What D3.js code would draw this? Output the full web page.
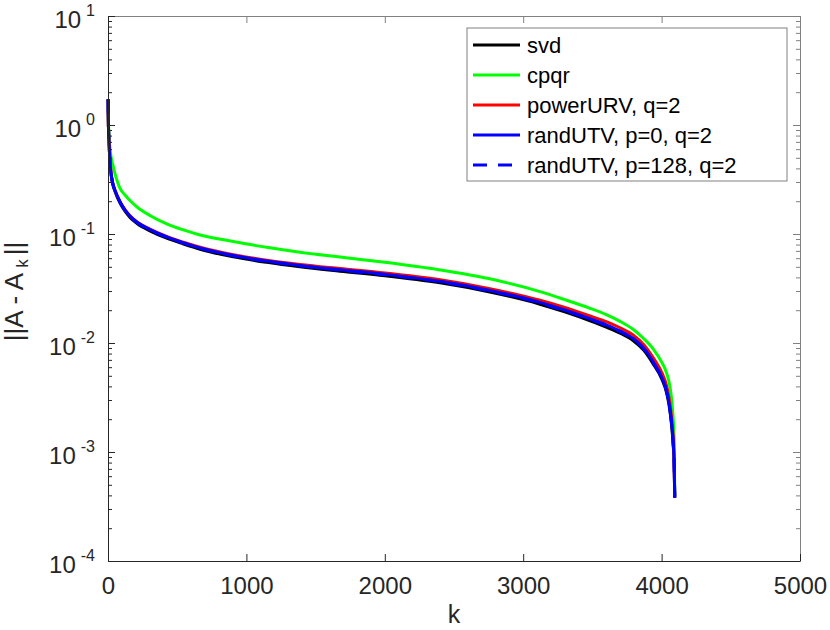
<!DOCTYPE html>
<html>
<head>
<meta charset="utf-8">
<script src="https://cdn.jsdelivr.net/npm/d3@7"></script>
<style>
body { margin: 0; background: #fff; }
text { font-family: "Liberation Sans", Arial, Helvetica, sans-serif; }
</style>
</head>
<body>
<div id="graphs"></div>
<script>
const kPoints = [1, 2, 4, 7, 12, 22, 35, 50, 87, 123, 159, 210, 303, 424, 545, 665, 905, 1147, 1387, 1676,
  2000, 2399, 2750, 3121, 3300, 3483, 3600, 3700, 3796, 3870, 3940, 4000, 4037, 4060, 4073, 4085, 4090, 4095];

const svdErr = [1.72, 1.18, 0.88, 0.71, 0.51, 0.355, 0.283, 0.247, 0.192, 0.162, 0.142, 0.125, 0.107, 0.0915, 0.081, 0.0725,
  0.0617, 0.0549, 0.05, 0.0456, 0.0414, 0.0356, 0.0295, 0.0227, 0.0193, 0.016, 0.014, 0.0123, 0.0105, 0.0086,
  0.0064, 0.0047, 0.00345, 0.0024, 0.00172, 0.0011, 0.00083, 0.00038];

const cpqrErr = [1.72, 1.3, 1.0, 0.8, 0.65, 0.51, 0.43, 0.36, 0.262, 0.228, 0.203, 0.177, 0.148, 0.124, 0.109, 0.098,
  0.0855, 0.0755, 0.068, 0.0615, 0.055, 0.0468, 0.039, 0.0296, 0.025, 0.0208, 0.0182, 0.0158, 0.0133, 0.011,
  0.0088, 0.0067, 0.00527, 0.004, 0.003, 0.0019, 0.00138, 0.0004];

const powerUrvErr = [1.72, 1.2, 0.9, 0.73, 0.52, 0.364, 0.291, 0.254, 0.198, 0.167, 0.147, 0.129, 0.111, 0.095, 0.084, 0.0755,
  0.0645, 0.0575, 0.0526, 0.0482, 0.0439, 0.038, 0.0317, 0.0247, 0.0212, 0.0177, 0.0157, 0.0138, 0.0118, 0.0097,
  0.0073, 0.0054, 0.004, 0.0028, 0.002, 0.00128, 0.00093, 0.00039];

const randUtvP0Err = [1.72, 1.2, 0.9, 0.73, 0.52, 0.363, 0.29, 0.253, 0.197, 0.166, 0.146, 0.128, 0.11, 0.094, 0.083, 0.0745,
  0.0635, 0.0565, 0.0515, 0.047, 0.0427, 0.0368, 0.0305, 0.0236, 0.0201, 0.0167, 0.0147, 0.0129, 0.011, 0.009,
  0.0067, 0.0049, 0.0036, 0.0025, 0.0018, 0.00115, 0.00086, 0.00038];

const randUtvP128Err = [1.72, 1.2, 0.9, 0.73, 0.52, 0.362, 0.289, 0.252, 0.196, 0.165, 0.145, 0.127, 0.109, 0.0935, 0.0825, 0.074,
  0.063, 0.056, 0.051, 0.0466, 0.0423, 0.0364, 0.0302, 0.0233, 0.0198, 0.0165, 0.0145, 0.0127, 0.0108, 0.0089,
  0.0066, 0.0048, 0.00355, 0.00245, 0.00177, 0.00113, 0.00085, 0.00038];

const seriesNames = ['svd', 'cpqr', 'powerURV, q=2', 'randUTV, p=0, q=2', 'randUTV, p=128, q=2'];
const seriesValues = [svdErr, cpqrErr, powerUrvErr, randUtvP0Err, randUtvP128Err];
const seriesColors = ['#000000', '#00ff00', '#ff0000', '#0000ff', '#0000ff'];
const seriesDash = [null, null, null, null, '14,11'];

const xTicks = [0, 1000, 2000, 3000, 4000, 5000];
const yExponents = [-4, -3, -2, -1, 0, 1];

const width = 830;
const height = 630;
const margin = {top: 16, right: 30, bottom: 69, left: 108};
const axisColor = '#262626';
const frameColor = '#808080';

const svg = d3.select('#graphs')
  .append('svg')
  .attr('width', width)
  .attr('height', height)
  .attr('viewBox', [0, 0, width, height]);

const x = d3.scaleLinear()
  .domain([0, 5000])
  .range([margin.left, width - margin.right]);

const y = d3.scaleLog()
  .domain([1e-4, 10])
  .range([height - margin.bottom, margin.top]);

const yMajor = yExponents.map(e => Math.pow(10, e));
const yMinor = [];
yExponents.slice(0, -1).forEach(e => {
  for (let m = 2; m <= 9; m++) yMinor.push(m * Math.pow(10, e));
});

// top and right frame with inward ticks
svg.append('g')
  .attr('transform', `translate(0,${margin.top})`)
  .attr('color', frameColor)
  .call(d3.axisTop(x).tickValues(xTicks).tickSizeInner(-7).tickSizeOuter(0).tickFormat(''));

svg.append('g')
  .attr('transform', `translate(${width - margin.right},0)`)
  .attr('color', frameColor)
  .call(d3.axisRight(y).tickValues(yMajor).tickSizeInner(-7).tickSizeOuter(0).tickFormat(''))
  .call(g => g.append('g')
    .call(d3.axisRight(y).tickValues(yMinor).tickSizeInner(-4).tickSizeOuter(0).tickFormat(''))
    .call(s => s.select('.domain').remove()));

// curves
const line = d3.line()
  .x(d => x(d[0]))
  .y(d => y(d[1]))
  .curve(d3.curveMonotoneX);

seriesValues.forEach((vals, i) => {
  svg.append('path')
    .datum(kPoints.map((k, j) => [k, vals[j]]))
    .attr('fill', 'none')
    .attr('stroke', seriesColors[i])
    .attr('stroke-width', 3)
    .attr('stroke-dasharray', seriesDash[i])
    .attr('d', line);
});

// bottom axis
svg.append('g')
  .attr('transform', `translate(0,${height - margin.bottom})`)
  .attr('color', axisColor)
  .call(d3.axisBottom(x).tickValues(xTicks).tickFormat(d3.format('d'))
    .tickSizeInner(-7).tickSizeOuter(0).tickPadding(16))
  .call(g => g.selectAll('text')
    .attr('font-size', 24)
    .attr('font-family', '"Liberation Sans", Arial, sans-serif')
    .attr('fill', axisColor));

// left axis
svg.append('g')
  .attr('transform', `translate(${margin.left},0)`)
  .attr('color', axisColor)
  .call(d3.axisLeft(y).tickValues(yMajor).tickSizeInner(-7).tickSizeOuter(0).tickFormat(''))
  .call(g => g.append('g')
    .call(d3.axisLeft(y).tickValues(yMinor).tickSizeInner(-4).tickSizeOuter(0).tickFormat(''))
    .call(s => s.select('.domain').remove()));

const yLabels = svg.append('g')
  .selectAll('text')
  .data(yExponents)
  .join('text')
  .attr('x', margin.left - 13)
  .attr('y', e => y(Math.pow(10, e)) + 12)
  .attr('text-anchor', 'end')
  .attr('font-size', 24)
  .attr('fill', axisColor)
  .text('10');
yLabels.append('tspan')
  .attr('dx', 5)
  .attr('dy', -12)
  .attr('font-size', 16)
  .text(e => String(e));

// axis titles
svg.append('text')
  .attr('x', (margin.left + width - margin.right) / 2)
  .attr('y', 623)
  .attr('text-anchor', 'middle')
  .attr('font-size', 25)
  .attr('fill', axisColor)
  .text('k');

const yTitle = svg.append('text')
  .attr('transform', `translate(23,${(margin.top + height - margin.bottom) / 2 + 3}) rotate(-90)`)
  .attr('text-anchor', 'middle')
  .attr('font-size', 26)
  .attr('fill', axisColor);
yTitle.append('tspan').text('||A - A');
yTitle.append('tspan').attr('dx', 5).attr('dy', 5).attr('font-size', 17).text('k');
yTitle.append('tspan').attr('dx', 4).attr('dy', -5).text('||');

// legend
const legend = svg.append('g').attr('transform', 'translate(467,28)');
legend.append('rect')
  .attr('width', 320)
  .attr('height', 153)
  .attr('fill', '#fff')
  .attr('stroke', frameColor)
  .attr('stroke-width', 1);

const rows = legend.selectAll('g.row')
  .data(seriesNames)
  .join('g')
  .attr('class', 'row')
  .attr('transform', (d, i) => `translate(0,${17 + i * 30})`);

rows.append('line')
  .attr('x1', 6)
  .attr('x2', 53)
  .attr('stroke', (d, i) => seriesColors[i])
  .attr('stroke-width', 3)
  .attr('stroke-dasharray', (d, i) => seriesDash[i]);

rows.append('text')
  .attr('x', 60)
  .attr('y', 8)
  .attr('font-size', 22)
  .attr('fill', '#000')
  .text(d => d);

svg.node();
</script>
</body>
</html>
